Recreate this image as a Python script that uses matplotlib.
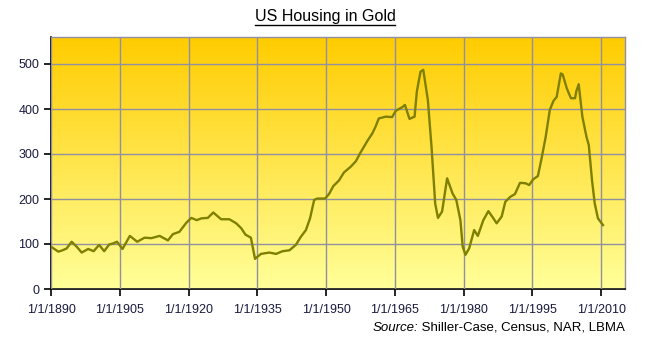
import matplotlib
matplotlib.use('Agg')
import matplotlib.pyplot as plt
import numpy as np
from matplotlib.colors import LinearSegmentedColormap
from matplotlib.lines import Line2D

plt.rcParams['font.family'] = ['Liberation Sans', 'DejaVu Sans']

# ── Data ─────────────────────────────────────────────────────────────────────
years = [1890.0, 1891.6, 1892.5, 1893.4, 1894.5, 1895.6, 1896.7, 1898.1, 1899.3,
         1900.5, 1901.6, 1902.7, 1903.5, 1904.4, 1905.6, 1907.2, 1908.8, 1910.4,
         1911.9, 1913.7, 1915.5, 1916.6, 1918.0, 1919.5, 1920.6, 1921.8, 1922.8,
         1924.2, 1925.4, 1927.1, 1928.9, 1930.4, 1931.5, 1932.4, 1933.6, 1934.5,
         1935.8, 1937.6, 1939.1, 1940.5, 1942.0, 1943.4, 1944.5, 1945.6, 1946.5,
         1947.4, 1948.1, 1949.8, 1950.7, 1951.6, 1952.8, 1953.9, 1955.4, 1956.5,
         1957.5, 1959.0, 1960.1, 1960.8, 1961.5, 1963.0, 1964.4, 1965.2, 1966.6,
         1967.2, 1968.2, 1969.3, 1969.8, 1970.6, 1971.2, 1972.2, 1973.0, 1973.8,
         1974.4, 1975.3, 1976.4, 1977.6, 1978.4, 1979.3, 1979.8, 1980.4, 1981.2,
         1982.3, 1983.1, 1984.3, 1985.4, 1986.5, 1987.2, 1988.3, 1989.1, 1990.2,
         1991.2, 1992.3, 1993.5, 1994.3, 1995.2, 1996.2, 1997.0, 1997.9, 1998.8,
         1999.6, 2000.3, 2001.2, 2001.6, 2002.5, 2003.4, 2004.3, 2004.6, 2005.1,
         2005.9, 2006.8, 2007.3, 2008.0, 2008.6, 2009.3, 2010.4]
values = [94, 83, 86, 90, 105, 94, 81, 89, 84,
          98, 84, 99, 101, 105, 89, 118, 105, 114,
          113, 118, 108, 122, 127, 147, 158, 153, 157,
          158, 170, 155, 155, 146, 135, 121, 114, 67,
          78, 81, 78, 84, 86, 98, 116, 131, 157,
          198, 201, 201, 212, 229, 241, 259, 272, 284,
          303, 329, 346, 361, 379, 383, 382, 396, 404,
          409, 378, 383, 439, 483, 487, 420, 316, 190,
          158, 172, 246, 212, 198, 153, 94, 76, 90,
          131, 118, 153, 173, 157, 146, 161, 194, 205,
          211, 236, 235, 231, 244, 251, 290, 338, 398,
          418, 427, 479, 477, 446, 424, 424, 440, 455,
          383, 338, 320, 242, 190, 157, 142]

tick_years = [1890, 1905, 1920, 1935, 1950, 1965, 1980, 1995, 2010]
tick_labels = [f'1/1/{y}' for y in tick_years]
y_ticks = [0, 100, 200, 300, 400, 500]

# ── Style ────────────────────────────────────────────────────────────────────
LINE = '#7f7f00'
GRID = '#9090a0'
X0, X1 = 1890, 2015.2
Y0, Y1 = 0, 560

fig = plt.figure(figsize=(6.54, 3.45), dpi=100)
fig.patch.set_facecolor('white')
ax = fig.add_axes([51/654, 56/345, 574/654, 252/345])

# gradient background: gold at the top fading to pale yellow
cmap = LinearSegmentedColormap.from_list('gold', ['#ffff99', '#ffcc00'])
grad = np.linspace(0, 1, 256).reshape(-1, 1)
ax.imshow(grad, cmap=cmap, origin='lower', aspect='auto',
          extent=(X0, X1, Y0, Y1), zorder=0)

ax.plot(years, values, color=LINE, lw=1.7, zorder=3)

ax.set_xlim(X0, X1)
ax.set_ylim(Y0, Y1)
ax.set_xticks(tick_years)
ax.set_xticklabels(tick_labels)
ax.set_yticks(y_ticks)
ax.grid(True, color=GRID, lw=1.0, zorder=1)
ax.set_axisbelow(False)
for gl in ax.get_xgridlines() + ax.get_ygridlines():
    gl.set_zorder(1)

for side in ('top', 'right'):
    ax.spines[side].set_color(GRID)
    ax.spines[side].set_linewidth(1.0)
for side in ('left', 'bottom'):
    ax.spines[side].set_color('black')
    ax.spines[side].set_linewidth(1.2)
ax.tick_params(axis='both', direction='out', length=5, width=1.2,
               color='black', labelsize=9, labelcolor='#1a1a40')
ax.tick_params(axis='x', pad=6)

# title with underline
title = fig.text(325/654, 1 - 16/345, 'US Housing in Gold', ha='center', va='center',
                 fontsize=11.5, color='black')
fig.canvas.draw()
bb = title.get_window_extent().transformed(fig.transFigure.inverted())
fig.add_artist(Line2D([bb.x0, bb.x1], [bb.y0 - 0.004, bb.y0 - 0.004],
                      transform=fig.transFigure, color='black', lw=1.0))

# source note
fig.text(625/654, 1 - 328/345, ' Shiller-Case, Census, NAR, LBMA',
         ha='right', va='center', fontsize=9.5, color='black')
src = fig.text(0, 0, 'Source:', fontsize=9.5, style='italic', va='center')
fig.canvas.draw()
rest = fig.texts[-2].get_window_extent().transformed(fig.transFigure.inverted())
sb = src.get_window_extent().transformed(fig.transFigure.inverted())
src.set_position((rest.x0 - (sb.x1 - sb.x0), 1 - 328/345))

fig.savefig('out.png', dpi=100, facecolor='white')
